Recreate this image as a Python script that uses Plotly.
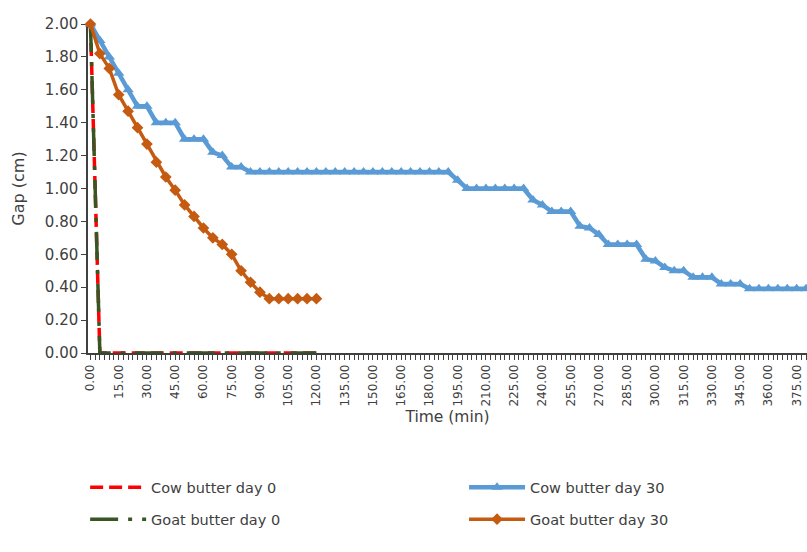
import plotly.graph_objects as go

# Sampling times (min)
TIME_DAY0 = list(range(0, 125, 5))
TIME_COW_30 = list(range(0, 385, 5))
TIME_GOAT_30 = list(range(0, 125, 5))

# Gap (cm) per sample
COW_DAY0 = [2.00, 0.00, 0.00, 0.00, 0.00, 0.00, 0.00, 0.00, 0.00, 0.00, 0.00, 0.00, 0.00,
            0.00, 0.00, 0.00, 0.00, 0.00, 0.00, 0.00, 0.00, 0.00, 0.00, 0.00, 0.00]
GOAT_DAY0 = [2.00, 0.00, 0.00, 0.00, 0.00, 0.00, 0.00, 0.00, 0.00, 0.00, 0.00, 0.00, 0.00,
             0.00, 0.00, 0.00, 0.00, 0.00, 0.00, 0.00, 0.00, 0.00, 0.00, 0.00, 0.00]
COW_DAY30 = [2.00, 1.90, 1.80, 1.70, 1.60, 1.50, 1.50, 1.40, 1.40, 1.40, 1.30, 1.30, 1.30,
             1.22, 1.20, 1.13, 1.13,
             1.10, 1.10, 1.10, 1.10, 1.10, 1.10, 1.10, 1.10, 1.10, 1.10, 1.10,
             1.10, 1.10, 1.10, 1.10, 1.10, 1.10, 1.10, 1.10, 1.10, 1.10, 1.10,
             1.05,
             1.00, 1.00, 1.00, 1.00, 1.00, 1.00, 1.00,
             0.93, 0.90, 0.86, 0.86, 0.86, 0.77, 0.76, 0.72,
             0.66, 0.66, 0.66, 0.66, 0.57, 0.56, 0.52, 0.50, 0.50,
             0.46, 0.46, 0.46, 0.42, 0.42, 0.42,
             0.39, 0.39, 0.39, 0.39, 0.39, 0.39, 0.39]
GOAT_DAY30 = [2.00, 1.82, 1.73, 1.57, 1.47, 1.37, 1.27, 1.16, 1.07, 0.99, 0.90, 0.83, 0.76,
              0.70, 0.66, 0.60, 0.50, 0.43, 0.37, 0.33, 0.33, 0.33, 0.33, 0.33, 0.33]

# Axis ticks
X_TICKS = list(range(0, 390, 15))
X_TICK_TEXT = [f"{v:.2f}" for v in X_TICKS]
Y_TICKS = [0.0, 0.2, 0.4, 0.6, 0.8, 1.0, 1.2, 1.4, 1.6, 1.8, 2.0]
Y_TICK_TEXT = [f"{v:.2f}" for v in Y_TICKS]

FONT = "DejaVu Sans"
TEXT = "#404040"

fig = go.Figure()
fig.add_trace(go.Scatter(
    x=TIME_DAY0, y=COW_DAY0, name="Cow butter day 0", mode="lines",
    line=dict(color="#FF0000", width=3.5, dash="13px,6px"),
    cliponaxis=False, legend="legend", legendgroup="cow0"))
fig.add_trace(go.Scatter(
    x=TIME_DAY0, y=GOAT_DAY0, name="Goat butter day 0", mode="lines",
    line=dict(color="#375623", width=3.5, dash="28px,10px,4px,10px"),
    cliponaxis=False, legend="legend", legendgroup="goat0"))
fig.add_trace(go.Scatter(
    x=TIME_COW_30, y=COW_DAY30, name="Cow butter day 30", mode="lines+markers",
    line=dict(color="#5B9BD5", width=4.5),
    marker=dict(symbol="triangle-up", size=10, color="#5B9BD5"),
    cliponaxis=False, legend="legend2", legendgroup="cow30"))
fig.add_trace(go.Scatter(
    x=TIME_GOAT_30, y=GOAT_DAY30, name="Goat butter day 30", mode="lines+markers",
    line=dict(color="#C55A11", width=3.5),
    marker=dict(symbol="diamond", size=9, color="#C55A11"),
    cliponaxis=False, legend="legend2", legendgroup="goat30"))

legend_common = dict(
    font=dict(family=FONT, size=14.5, color=TEXT),
    bgcolor="rgba(0,0,0,0)", itemwidth=56, tracegroupgap=10,
    traceorder="grouped", yanchor="top", xanchor="left",
)
fig.update_layout(
    width=807, height=552,
    margin=dict(l=88, r=0, t=24, b=199),
    paper_bgcolor="white", plot_bgcolor="white",
    font=dict(family=FONT, color=TEXT),
    legend=dict(x=-0.004, y=-0.36, **legend_common),
    legend2=dict(x=0.523, y=-0.36, **legend_common),
    xaxis=dict(
        range=[-1.3, 380.5], tickmode="array", tickvals=X_TICKS, ticktext=X_TICK_TEXT,
        tickangle=-90, tickfont=dict(family=FONT, size=12, color=TEXT),
        ticks="outside", ticklen=5, tickwidth=1.2, tickcolor=TEXT,
        minor=dict(dtick=2.5, tick0=0, ticks="outside", ticklen=5, tickwidth=1.2, tickcolor=TEXT),
        showline=True, linecolor=TEXT, linewidth=1.5, showgrid=False, zeroline=False,
        layer="below traces",
        title=dict(text="Time (min)", font=dict(family=FONT, size=15.5, color=TEXT), standoff=6),
    ),
    yaxis=dict(
        range=[0, 2.0], tickmode="array", tickvals=Y_TICKS, ticktext=Y_TICK_TEXT,
        tickfont=dict(family=FONT, size=15, color=TEXT),
        ticks="outside", ticklen=5, tickwidth=1.2, tickcolor=TEXT,
        showline=True, linecolor=TEXT, linewidth=1.5, showgrid=False, zeroline=False,
        layer="below traces",
        title=dict(text="Gap (cm)", font=dict(family=FONT, size=16, color=TEXT), standoff=16),
    ),
)

fig.write_html("out.html")
